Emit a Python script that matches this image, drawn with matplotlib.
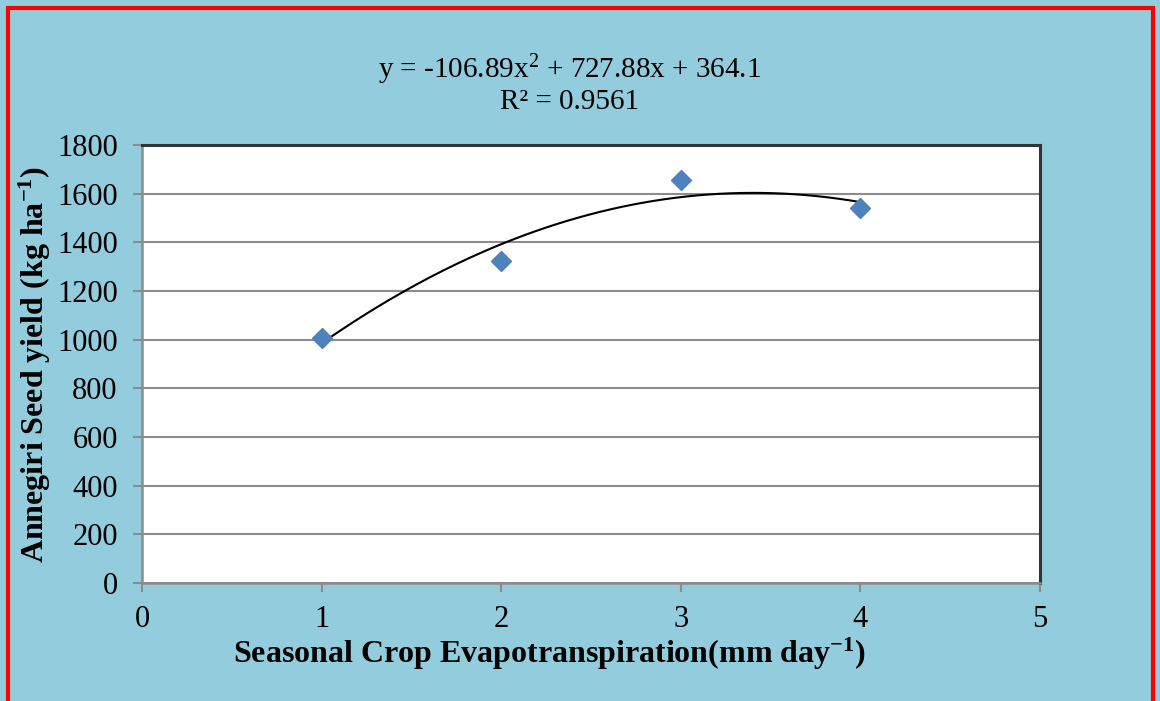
import matplotlib.pyplot as plt
from matplotlib.patches import Rectangle
import numpy as np

# seasonal ETc (mm/day) vs seed yield (kg/ha)
et = [1, 2, 3, 4]
yield_kg = [1008, 1323, 1655, 1542]
x_ticks = [0, 1, 2, 3, 4, 5]
y_ticks = [0, 200, 400, 600, 800, 1000, 1200, 1400, 1600, 1800]

plt.rcParams['font.family'] = ['Liberation Serif', 'DejaVu Serif']
plt.rcParams['mathtext.fontset'] = 'custom'
plt.rcParams['mathtext.rm'] = 'Liberation Serif'
plt.rcParams['mathtext.it'] = 'Liberation Serif:italic'
plt.rcParams['mathtext.bf'] = 'Liberation Serif:bold'

bg = '#93CDDD'
fig = plt.figure(figsize=(11.6, 7.01), dpi=100, facecolor=bg)
ax = fig.add_axes([0.1224, 0.1683, 0.7742, 0.6249])
ax.set_facecolor('white')

# quadratic trendline
coef = np.polyfit(et, yield_kg, 2)
xs = np.linspace(min(et), max(et), 200)
ax.plot(xs, np.polyval(coef, xs), color='black', lw=1.5, zorder=3)
ax.plot(et, yield_kg, 'D', color='#4F81BD', ms=10, mec='#4F81BD', zorder=4)

ax.set_xlim(0, 5)
ax.set_ylim(0, 1800)
ax.set_xticks(x_ticks)
ax.set_yticks(y_ticks)
ax.yaxis.grid(True, color='#8C8C8C', lw=1.5)
ax.set_axisbelow(True)
ax.tick_params(axis='both', labelsize=22, color='#8C8C8C', width=1.5, length=6.5,
               direction='out')
ax.tick_params(axis='y', pad=11)
ax.tick_params(axis='x', pad=9)
for s in ['left', 'bottom']:
    ax.spines[s].set_color('#8C8C8C')
    ax.spines[s].set_linewidth(1.8)
for s in ['top', 'right']:
    ax.spines[s].set_color('#333333')
    ax.spines[s].set_linewidth(2.2)

ax.set_xlabel('Seasonal Crop Evapotranspiration(mm day$^{\\mathbf{-1}}$)',
              fontsize=23, fontweight='bold')
ax.xaxis.set_label_coords((549 - 142) / 898, -0.12)
ax.set_ylabel('Annegiri Seed yield (kg ha$^{\\mathbf{-1}}$)',
              fontsize=23, fontweight='bold')
ax.yaxis.set_label_coords(-0.099, 0.5)

fig.text(570 / 1160, 1 - 70 / 701, 'y = -106.89x$^{2}$ + 727.88x + 364.1',
         ha='center', va='center', fontsize=21)
fig.text(570 / 1160, 1 - 102 / 701, 'R² = 0.9561',
         ha='center', va='center', fontsize=21)

# red frame round the chart
fig.patches.append(Rectangle((8 / 1160, -0.05), 1145 / 1160, 1.05 - 8 / 701,
                             transform=fig.transFigure, fill=False,
                             edgecolor='red', lw=3))

fig.savefig('out.png', dpi=100, facecolor=bg)
